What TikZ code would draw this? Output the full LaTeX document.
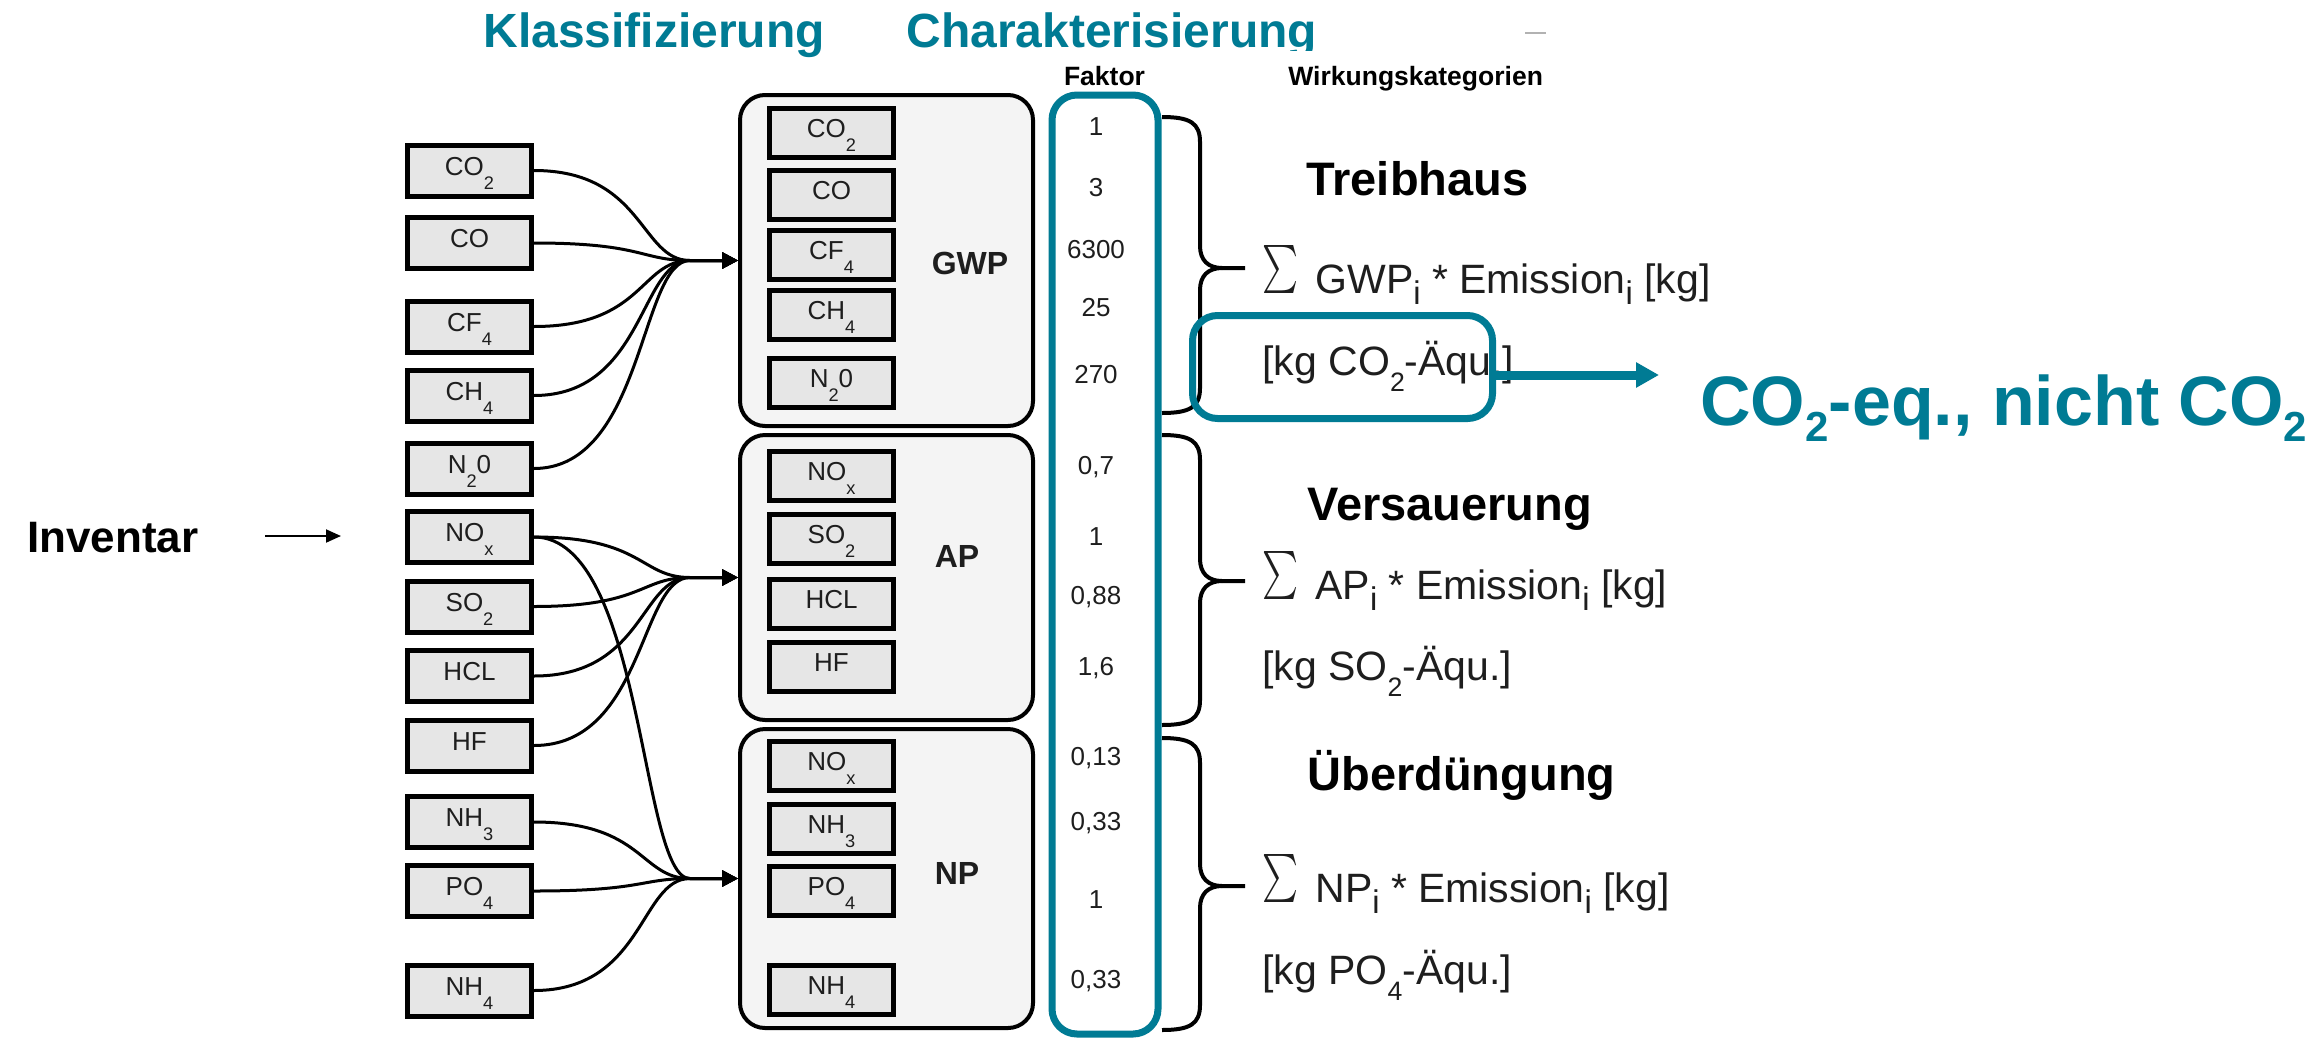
\documentclass[tikz,border=0pt]{standalone}
\usepackage{fontspec}
\setmainfont{Liberation Sans}
\usepackage{graphicx}
\usetikzlibrary{arrows.meta,calc}

\definecolor{accent}{RGB}{0,123,148}
\definecolor{grpgray}{RGB}{244,244,244}
\definecolor{boxgray}{RGB}{230,230,230}
\definecolor{txtgray}{RGB}{30,30,30}

\newcommand{\fs}[1]{\fontsize{#1}{#1}\selectfont}
% chemical subscripts inside the small boxes
\newcommand{\chemsub}[1]{\raisebox{-0.55em}{\scalebox{0.7}{#1}}}
% subscripts in the unit lines
\newcommand{\unitsub}[1]{\raisebox{-0.4em}{\scalebox{0.65}{#1}}}
% index i in the sum formulas
\newcommand{\isub}{\raisebox{-0.28em}{\scalebox{0.8}{i}}}
% subscript in the large teal note
\newcommand{\bigsub}[1]{\raisebox{-0.24em}{\scalebox{0.6}{#1}}}
% summation sign of the formulas: stretched to a fixed size, resting on the baseline
\newcommand{\sumsym}{\raisebox{\depth}{\resizebox*{18pt}{24pt}{\fs{10pt}$\textstyle\sum$}}\hspace{8.5pt}}

% brace: top end, tip, bottom end (y values)
\newcommand{\drawbrace}[3]{%
  \draw[brace] (1162,#1) .. controls (1190,#1) and (1200,#1+6) .. (1200,#1+25)
     -- (1200,#2-22) .. controls (1200,#2-8) and (1208,#2) .. (1222,#2) -- (1245,#2);
  \draw[brace] (1222,#2) .. controls (1208,#2) and (1200,#2+8) .. (1200,#2+22)
     -- (1200,#3-25) .. controls (1200,#3-6) and (1190,#3) .. (1162,#3);}

\tikzset{
  lbox/.style={draw=black, line width=2.5pt, fill=boxgray, inner sep=0pt,
    minimum width=62pt, minimum height=25.5pt, text height=9.5pt, text depth=5pt,
    font=\fs{13pt}, text=txtgray},
  ibox/.style={lbox, minimum height=24.5pt},
  grp/.style={draw=black, line width=2pt, rounded corners=12.5pt, fill=grpgray,
    inner sep=0pt, minimum width=146.5pt},
  grplabel/.style={font=\bfseries\fs{16pt}, text=txtgray, inner sep=0pt},
  val/.style={font=\fs{13pt}, text=txtgray, inner sep=0pt},
  conn/.style={line width=1.5pt, -{Triangle[length=8pt,width=8pt]}},
  brace/.style={line width=2pt},
  accbox/.style={draw=accent, line width=3.5pt, rounded corners=12.5pt, inner sep=0pt},
  heading/.style={font=\bfseries\fs{24pt}, text=accent, anchor=base west, inner sep=0pt},
  cat/.style={font=\bfseries\fs{23.5pt}, anchor=base west, inner sep=0pt},
  formula/.style={font=\fs{20.5pt}, text=txtgray, anchor=base west, inner sep=0pt},
  colhead/.style={font=\bfseries\fs{13.25pt}, anchor=base, inner sep=0pt},
}

\begin{document}
\begin{tikzpicture}[x=0.5pt, y=-0.5pt]
  \useasboundingbox (0,0) rectangle (2322,1039);
  \fill[white] (0,0) rectangle (2322,1039);

  % column headings
  \node[heading] (klass) at (483,47) {Klassifizierung};
  \begin{scope}
    \clip (880,0) rectangle (1400,50);
    \node[heading] (charak) at (906,47) {Charakterisierung};
  \end{scope}
  \draw[gray!60, line width=1pt] (1525,33) -- (1546,33);
  \node[colhead] (faktor) at (1104.5,85) {Faktor};
  \node[colhead, anchor=base west] (wirk) at (1288,85) {Wirkungskategorien};

  % inventory
  \node[font=\bfseries\fs{22pt}, anchor=base west, inner sep=0pt] (inv) at (27,552) {Inventar};
  \coordinate (invA) at (265,536);
  \coordinate (invB) at (341,536);
  \draw[line width=1pt, -{Triangle[length=7.5pt,width=6.5pt]}] (invA) -- (invB);

  % inventory boxes
  \node[lbox] (l-co2) at (469.5,170.5) {CO\chemsub{2}};
  \node[lbox] (l-co)  at (469.5,243)   {CO};
  \node[lbox] (l-cf4) at (469.5,326.5) {CF\chemsub{4}};
  \node[lbox] (l-ch4) at (469.5,395.5) {CH\chemsub{4}};
  \node[lbox] (l-n2o) at (469.5,468.5) {N\chemsub{2}0};
  \node[lbox] (l-nox) at (469.5,537)   {NO\chemsub{x}};
  \node[lbox] (l-so2) at (469.5,606.5) {SO\chemsub{2}};
  \node[lbox] (l-hcl) at (469.5,676)   {HCL};
  \node[lbox] (l-hf)  at (469.5,745.5) {HF};
  \node[lbox] (l-nh3) at (469.5,822)   {NH\chemsub{3}};
  \node[lbox] (l-po4) at (469.5,891)   {PO\chemsub{4}};
  \node[lbox] (l-nh4) at (469.5,990.5) {NH\chemsub{4}};

  % impact groups
  \node[grp, minimum height=165.5pt] (g-gwp) at (886.5,260.5) {};
  \node[grp, minimum height=142.5pt] (g-ap)  at (886.5,577.5) {};
  \node[grp, minimum height=149.5pt] (g-np)  at (886.5,878.5) {};

  \node[ibox] (m-gwp-co2) at (831.5,133)   {CO\chemsub{2}};
  \node[ibox] (m-gwp-co)  at (831.5,194.5) {CO};
  \node[ibox] (m-gwp-cf4) at (831.5,255)   {CF\chemsub{4}};
  \node[ibox] (m-gwp-ch4) at (831.5,315)   {CH\chemsub{4}};
  \node[ibox] (m-gwp-n2o) at (831.5,383)   {N\chemsub{2}0};
  \node[grplabel] (t-gwp) at (970,263) {GWP};

  \node[ibox] (m-ap-nox) at (831.5,475.5) {NO\chemsub{x}};
  \node[ibox] (m-ap-so2) at (831.5,538.5) {SO\chemsub{2}};
  \node[ibox] (m-ap-hcl) at (831.5,603.5) {HCL};
  \node[ibox] (m-ap-hf)  at (831.5,666.5) {HF};
  \node[grplabel] (t-ap) at (957,556) {AP};

  \node[ibox] (m-np-nox) at (831.5,766)   {NO\chemsub{x}};
  \node[ibox] (m-np-nh3) at (831.5,829)   {NH\chemsub{3}};
  \node[ibox] (m-np-po4) at (831.5,890.5) {PO\chemsub{4}};
  \node[ibox] (m-np-nh4) at (831.5,989.5) {NH\chemsub{4}};
  \node[grplabel] (t-np) at (957,873) {NP};

  % classification connectors
  \coordinate (gwpin) at ($(g-gwp.west)+(-48,0)$);
  \coordinate (apin)  at ($(g-ap.west)+(-48,0)$);
  \coordinate (npin)  at ($(g-np.west)+(-48,0)$);
  \foreach \s in {co2,co,cf4,ch4,n2o}
    \draw[conn] (l-\s.east) .. controls +(110,0) and +(-50,0) .. (gwpin) -- (g-gwp.west);
  \foreach \s in {nox,so2,hcl,hf}
    \draw[conn] (l-\s.east) .. controls +(110,0) and +(-50,0) .. (apin) -- (g-ap.west);
  \foreach \s in {nox,nh3,po4,nh4}
    \draw[conn] (l-\s.east) .. controls +(110,0) and +(-50,0) .. (npin) -- (g-np.west);

  % characterisation factors
  \node[accbox, minimum width=53pt, minimum height=469.5pt] (fbox) at (1105,564.5) {};
  \node[val] (f1)  at (1096,127) {1};
  \node[val] (f2)  at (1096,188) {3};
  \node[val] (f3)  at (1096,250) {6300};
  \node[val] (f4)  at (1096,308) {25};
  \node[val] (f5)  at (1096,375) {270};
  \node[val] (f6)  at (1096,467) {0,7};
  \node[val] (f7)  at (1096,537) {1};
  \node[val] (f8)  at (1096,597) {0,88};
  \node[val] (f9)  at (1096,668) {1,6};
  \node[val] (f10) at (1096,758) {0,13};
  \node[val] (f11) at (1096,823) {0,33};
  \node[val] (f12) at (1096,900) {1};
  \node[val] (f13) at (1096,981) {0,33};

  % braces
  \drawbrace{117}{268}{413}
  \drawbrace{435}{581}{725}
  \drawbrace{738}{886}{1030}

  % impact categories
  \node[cat] (c-gwp) at (1306,195) {Treibhaus};
  \node[formula] (s-gwp) at (1262,293) {\sumsym GWP\isub{} * Emission\isub{} [kg]};
  \node[formula] (u-gwp) at (1262,375) {[kg CO\unitsub{2}-Äqu.]};

  \node[cat] (c-ap) at (1307,520) {Versauerung};
  \node[formula] (s-ap) at (1262,599) {\sumsym AP\isub{} * Emission\isub{} [kg]};
  \node[formula] (u-ap) at (1262,680) {[kg SO\unitsub{2}-Äqu.]};

  \node[cat] (c-np) at (1307,790) {Überdüngung};
  \node[formula] (s-np) at (1262,902) {\sumsym NP\isub{} * Emission\isub{} [kg]};
  \node[formula] (u-np) at (1262,984) {[kg PO\unitsub{4}-Äqu.]};

  % CO2 equivalent remark
  \node[accbox, minimum width=150pt, minimum height=51.5pt] (eqbox) at (1342.5,367) {};
  \coordinate (eqtip) at (1659,375);
  \draw[accent, line width=4.5pt, -{Triangle[length=11.5pt,width=12pt]}]
    ($(eqbox.east)+(0,8)$) -- (eqtip);
  \node[font=\bfseries\fs{35pt}, text=accent, anchor=base west, inner sep=0pt] (eqnote)
    at (1700,425) {CO\bigsub{2}-eq., nicht CO\bigsub{2}};
\end{tikzpicture}
\end{document}
